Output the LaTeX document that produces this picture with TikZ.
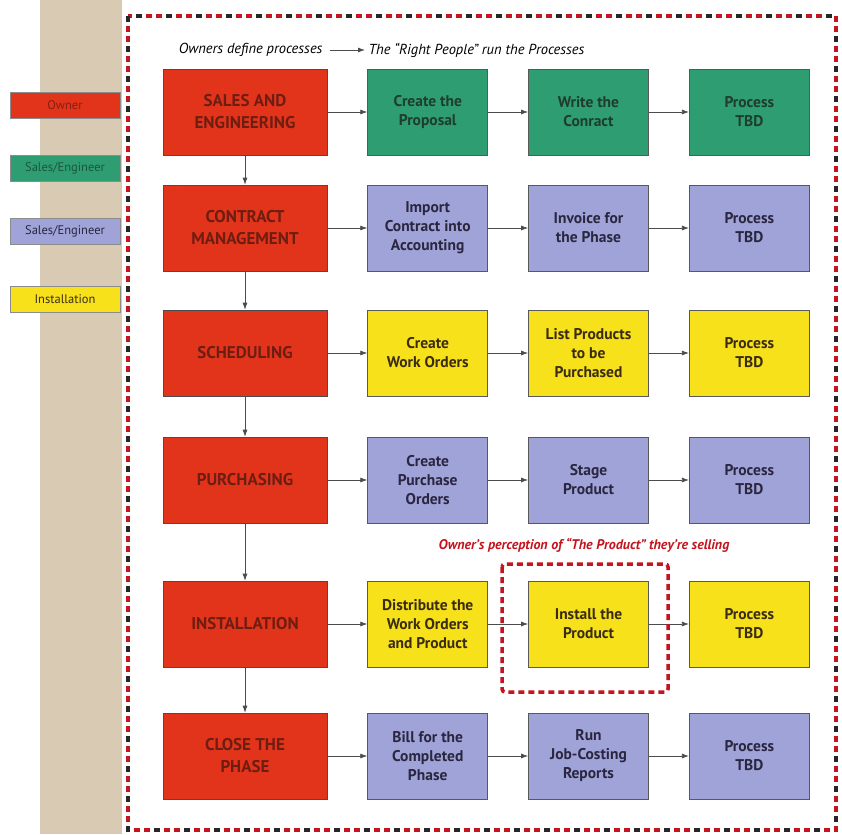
\documentclass[tikz,border=0pt]{standalone}
\usepackage{fontspec}
\setmainfont{PT Sans}
\usepackage{xcolor}
\usepackage{tikz}
\usetikzlibrary{arrows.meta, positioning}
\definecolor{ownred}{HTML}{E2341A}
\definecolor{owntext}{HTML}{6E1D12}
\definecolor{salesgreen}{HTML}{2E9E72}
\definecolor{salestext}{HTML}{1E3D2E}
\definecolor{acctblue}{HTML}{A0A3D8}
\definecolor{accttext}{HTML}{2A2640}
\definecolor{instyellow}{HTML}{F7E11B}
\definecolor{insttext}{HTML}{3A2C12}
\definecolor{framered}{HTML}{C4141E}
\definecolor{stripbeige}{HTML}{D9CBB3}

\begin{document}
\begin{tikzpicture}[
    x=1pt, y=-1pt,
    every node/.style={font=\bfseries},
    owner/.style={draw=black!70, line width=0.6pt, fill=ownred, text=owntext,
                  minimum width=164pt, minimum height=86pt, align=center,
                  font=\fontsize{17}{22}\selectfont\bfseries,
                  path picture={
                    \draw[black!60, line width=0.5pt]
                      ([xshift=14pt]path picture bounding box.north west) --
                      ([xshift=14pt]path picture bounding box.south west);
                    \draw[black!60, line width=0.5pt]
                      ([xshift=-14pt]path picture bounding box.north east) --
                      ([xshift=-14pt]path picture bounding box.south east);}},
    proc/.style={draw=black!65, line width=0.8pt, minimum width=120pt,
                 minimum height=86pt, align=center, inner sep=2pt,
                 font=\fontsize{15.5}{19}\selectfont\bfseries},
    salesbox/.style={proc, fill=salesgreen, text=salestext},
    acctbox/.style={proc, fill=acctblue, text=accttext},
    instbox/.style={proc, fill=instyellow, text=insttext},
    legend/.style={draw=black!45, line width=0.5pt, minimum width=110pt,
                   minimum height=26pt, inner sep=1pt,
                   font=\fontsize{12.5}{14}\selectfont},
    flow/.style={-{Latex[length=7pt,width=5pt]}, draw=black!70, line width=0.7pt},
    frame/.style={draw=framered, line width=4pt, dash pattern=on 6pt off 4pt},
    frametick/.style={draw=black!85, line width=4pt, dash pattern=on 6pt off 24pt},
    node distance=40pt,
]
\useasboundingbox (0,0) rectangle (842,834);
\fill[white] (0,0) rectangle (842,834);
\fill[stripbeige] (40,0) rectangle (122,834);

% legend
\node[legend, fill=ownred, text=ownred!60!black] (legowner) at (65,105) {Owner};
\node[legend, fill=salesgreen, text=salesgreen!55!black] (legsales) at (65,168) {Sales/Engineer};
\node[legend, fill=acctblue, text=accttext] (legacct) at (65,231) {Sales/Engineer};
\node[legend, fill=instyellow, text=insttext] (leginst) at (65,299) {Installation};

\draw[frame] (128,16) rectangle (836,830);
\draw[frametick] (128,16) rectangle (836,830);

% heading
\node[font=\fontsize{14.5}{16}\selectfont\itshape, anchor=east] (ownlbl) at (326,50)
    {Owners define processes};
\node[font=\fontsize{14.5}{16}\selectfont\itshape, anchor=west] (rightlbl) at (365,50)
    {The “Right People” run the Processes};
\draw[flow, line width=0.8pt, shorten <=4pt] (ownlbl) -- (rightlbl);

% owner column
\node[owner] (sales)    at (245,112) {SALES AND\\ENGINEERING};
\node[owner] (contract) at (245,228) {CONTRACT\\MANAGEMENT};
\node[owner] (sched)    at (245,353) {SCHEDULING};
\node[owner] (purch)    at (245,480) {PURCHASING};
\node[owner] (install)  at (245,624) {INSTALLATION};
\node[owner] (close)    at (245,756) {CLOSE THE\\PHASE};

% row 1
\node[salesbox, right=of sales]    (proposal) {Create the\\Proposal};
\node[salesbox, right=of proposal] (contr)    {Write the\\Conract};
\node[salesbox, right=of contr]    (tbda)     {Process\\TBD};
% row 2
\node[acctbox, right=of contract] (import)  {Import\\Contract into\\Accounting};
\node[acctbox, right=of import]   (invoice) {Invoice for\\the Phase};
\node[acctbox, right=of invoice]  (tbdb)    {Process\\TBD};
% row 3
\node[instbox, right=of sched]   (workord) {Create\\Work Orders};
\node[instbox, right=of workord] (listprod) {List Products\\to be\\Purchased};
\node[instbox, right=of listprod] (tbdc)   {Process\\TBD};
% row 4
\node[acctbox, right=of purch]  (purord) {Create\\Purchase\\Orders};
\node[acctbox, right=of purord] (stage)  {Stage\\Product};
\node[acctbox, right=of stage]  (tbdd)   {Process\\TBD};
% row 5
\node[instbox, right=of install] (distrib) {Distribute the\\Work Orders\\and Product};
\node[instbox, right=of distrib] (instprod) {Install the\\Product};
\node[instbox, right=of instprod] (tbde)   {Process\\TBD};
% row 6
\node[acctbox, right=of close] (bill)    {Bill for the\\Completed\\Phase};
\node[acctbox, right=of bill]  (jobcost) {Run\\Job-Costing\\Reports};
\node[acctbox, right=of jobcost] (tbdf)  {Process\\TBD};

\draw[flow] (sales) -- (contract);
\draw[flow] (contract) -- (sched);
\draw[flow] (sched) -- (purch);
\draw[flow] (purch) -- (install);
\draw[flow] (install) -- (close);

\draw[flow] (sales) -- (proposal);
\draw[flow] (proposal) -- (contr);
\draw[flow] (contr) -- (tbda);
\draw[flow] (contract) -- (import);
\draw[flow] (import) -- (invoice);
\draw[flow] (invoice) -- (tbdb);
\draw[flow] (sched) -- (workord);
\draw[flow] (workord) -- (listprod);
\draw[flow] (listprod) -- (tbdc);
\draw[flow] (purch) -- (purord);
\draw[flow] (purord) -- (stage);
\draw[flow] (stage) -- (tbdd);
\draw[flow] (install) -- (distrib);
\draw[flow] (distrib) -- (instprod);
\draw[flow] (instprod) -- (tbde);
\draw[flow] (close) -- (bill);
\draw[flow] (bill) -- (jobcost);
\draw[flow] (jobcost) -- (tbdf);

% the product
\draw[frame, line width=3.5pt, rounded corners=3pt] (502,564) rectangle (668,692);
\node[text=framered, font=\fontsize{14}{16}\selectfont\bfseries\itshape] (perception)
    at (584,545) {Owner’s perception of “The Product” they’re selling};
\end{tikzpicture}
\end{document}
